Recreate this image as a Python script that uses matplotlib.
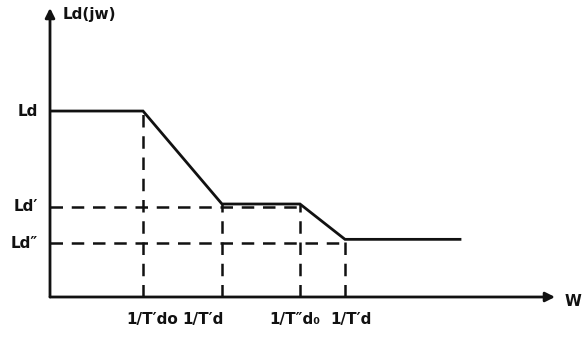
import matplotlib.pyplot as plt


# asymptotic Bode magnitude of Ld(jw), arbitrary units
w_points = [0.0, 0.93, 1.72, 2.50, 2.95, 4.10]
ld_points = [1.0, 1.0, 0.50, 0.50, 0.31, 0.31]
break_w = [0.93, 1.72, 2.50, 2.95]
break_ld = [1.0, 0.50, 0.50, 0.31]
level_names = ["Ld", "Ld′", "Ld″"]
level_values = [1.0, 0.485, 0.29]
level_reach = [0.0, 2.50, 2.95]
break_labels = ["1/T′do", "1/T′d", "1/T″d₀", "1/T′d"]
label_shift = [6.5, -13.5, -3.5, 4.5]  # points, labels sit a bit off their lines


def main():
    fig = plt.figure(figsize=(5.86, 3.39), dpi=100)
    ax = fig.add_axes([50 / 586, 42 / 339, 505 / 586, 289 / 339])
    ax.set_xlim(0, 5.05)
    ax.set_ylim(0, 1.554)
    ax.axis("off")

    black = "#111111"
    font = dict(family="DejaVu Sans", fontsize=11, fontweight="bold", color=black)

    # axes with arrow heads
    ax.annotate("", xy=(5.05, 0), xytext=(0, 0),
                arrowprops=dict(arrowstyle="-|>", color=black, lw=2,
                                mutation_scale=14, shrinkA=0, shrinkB=0))
    ax.annotate("", xy=(0, 1.554), xytext=(0, 0),
                arrowprops=dict(arrowstyle="-|>", color=black, lw=2,
                                mutation_scale=14, shrinkA=0, shrinkB=0))

    ax.plot(w_points, ld_points, color=black, lw=2, solid_joinstyle="miter")

    dash = dict(color=black, lw=1.8, dashes=(5, 3.5))
    for w, ld in zip(break_w, break_ld):
        ax.plot([w, w], [0, ld], **dash)
    for val, reach in zip(level_values[1:], level_reach[1:]):
        ax.plot([0, reach], [val, val], **dash)

    for name, val in zip(level_names, level_values):
        ax.annotate(name, xy=(0, val), xytext=(-9, 0), textcoords="offset points",
                    ha="right", va="center", **font)

    for lab, w, dx in zip(break_labels, break_w, label_shift):
        ax.annotate(lab, xy=(w, 0), xytext=(dx, -16), textcoords="offset points",
                    ha="center", va="center", **font)

    ax.annotate("Ld(jw)", xy=(0, 1.554), xytext=(9, -5), textcoords="offset points",
                ha="left", va="center", **font)
    ax.annotate("W", xy=(5.05, 0), xytext=(7, -3), textcoords="offset points",
                ha="left", va="center", **font)

    fig.savefig("out.png", dpi=100)
    plt.close(fig)


if __name__ == "__main__":
    main()
